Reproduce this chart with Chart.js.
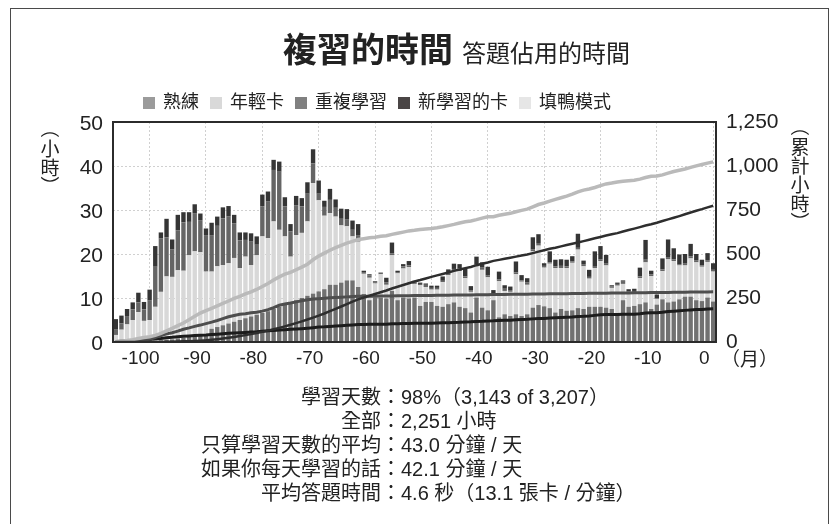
<!DOCTYPE html>
<html>
<head>
<meta charset="utf-8">
<script src="https://cdn.jsdelivr.net/npm/chart.js@4.4.1/dist/chart.umd.min.js"></script>
<style>
    html, body { margin: 0; padding: 0; background: #fff; }
    body {
        width: 839px; height: 524px; position: relative; overflow: hidden;
        font-family: "Liberation Sans", "Noto Sans CJK TC", sans-serif; color: #222;
    }
    #chart { position: absolute; left: 0; top: 0; }
    #box { position: absolute; left: 10px; top: 8px; width: 819px; height: 560px; border: 1px solid #4a4a4a; box-sizing: border-box; }
    #title { position: absolute; left: 283px; top: 29px; white-space: nowrap; line-height: 42px; }
    #title b { font-size: 34px; font-weight: bold; }
    #title span { font-size: 24px; margin-left: 9px; }
    #legend { position: absolute; left: 143px; top: 90px; white-space: nowrap; font-size: 18px; line-height: 24px; }
    #legend .item { display: inline-block; margin-right: 11px; }
    #legend .sw { display: inline-block; width: 12px; height: 12px; margin-right: 8px; vertical-align: -1px; }
    .vtitle { position: absolute; width: 20px; font-family: "Noto Sans CJK TC", sans-serif; font-size: 19px; line-height: 19px; text-align: center; }
    .vtitle span { display: block; height: 19px; }
    .vtitle span.rot { transform: rotate(90deg); }
    #unit { position: absolute; left: 721px; top: 344px; font-size: 19px; }
    #stats { position: absolute; left: 0; top: 385px; font-size: 20px; line-height: 24px; }
    #stats .k { display: inline-block; width: 401px; text-align: right; }
</style>
</head>
<body>
<div id="box"></div>
<canvas id="chart" width="839" height="524"></canvas>
<div id="title"><b>複習的時間</b><span>答題佔用的時間</span></div>
<div id="legend"></div>
<div class="vtitle" id="ytitle" style="left:40px; top:119px;"></div>
<div class="vtitle" id="y2title" style="left:790px; top:117px;"></div>
<div id="unit">（月）</div>
<div id="stats"></div>
<script>
document.addEventListener('DOMContentLoaded', () => {
    // 月份：-106 到 0
    const months = [];
    for (let m = -106; m <= 0; m++) months.push(m);

    // 每月小時數
    const mature = [
        0, 0, 0, 0, 0, 0, 0,
        0.3, 0.4, 0.5, 0.6, 0.8, 1.0, 1.2, 1.4, 1.6, 1.8,
        3.0, 3.4, 3.8, 4.2, 4.6, 5.0, 5.4, 5.8, 6.2, 6.6, 7.0, 7.5, 8.0, 8.5, 9.0, 9.5, 10.0, 10.5,
        11, 11.5, 12, 13, 13, 13.5, 14, 14, 12.5,
        10.9, 9.5, 10.1, 10.1, 9.9, 11.6, 9.5, 10.1, 9.9,
        10.1, 8.2, 9.1, 9.1, 8.2, 8.0, 8.6, 9.0, 8.0, 7.7, 6.7, 10.1, 7.8, 7.2, 9.5, 5.6, 6.3, 5.9,
        6.3, 5.9, 6.3, 7.8, 8.4, 8.1, 7.7, 6.7, 7.5, 7.1, 7.2, 7.7, 7.5, 8.0, 8.0, 8.0, 7.8,
        7.5, 6.3, 9.5, 8.0, 8.2, 8.6, 9.0, 7.5, 8.5, 9.7, 9.0, 9.2, 9.7, 10.3, 10.3, 9.5, 9.3, 10.1, 9.2
    ];
    const young = [
        1.6, 2.8, 4.0, 5.0, 6.8, 4.8, 5.0,
        7.7, 11.0, 14.4, 14.2, 15.5, 15.2, 18.5, 19.2, 18.8, 14.2,
        13.0, 13.8, 13.7, 13.7, 14.5, 11.8, 14.0, 11.7, 13.5, 17.4, 16.6, 19.9, 17.5, 15.5, 10.4, 14.8, 14.8, 16.9,
        25.1, 20.7, 16.7, 16.3, 15.5, 13.0, 12.3, 10.0, 10.3,
        4.6, 5.1, 3.2, 5.3, 3.1, 8.1, 6.1, 6.6, 7.1,
        3.1, 4.7, 3.4, 2.8, 3.7, 5.6, 6.6, 7.2, 8.1, 6.8, 4.7, 7.1, 8.6, 7.5, 1.0, 8.2, 5.3, 5.5,
        9.1, 7.8, 6.7, 12.8, 13.5, 8.8, 10.1, 10.1, 9.3, 9.7, 10.8, 13.3, 9.7, 6.4, 8.8, 10.4, 9.6,
        4.8, 6.5, 3.7, 3.1, 3.1, 5.9, 9.1, 7.5, 1.3, 6.4, 9.8, 9.2, 7.7, 7.1, 8.7, 8.6, 7.8, 8.1, 6.8
    ];
    const relearn = [
        1.2, 1.4, 1.9, 2.4, 2.2, 2.6, 4.4,
        9.1, 12.1, 8.9, 6.2, 9.1, 11.0, 7.6, 8.7, 7.3, 8.3,
        8.3, 9.2, 10.6, 10.6, 7.9, 6.3, 3.8, 5.3, 2.4, 6.8, 8.3, 11.7, 13.2, 6.8, 5.7, 6.8, 6.0, 6.3,
        4.5, 1.5, 2.0, 3.0, 2.0, 1.5, 1.5, 1.5, 1.5,
        0.4, 0.5, 0.3, 0.4, 0.6, 0.4, 0.3, 0.5, 0.4,
        0.4, 0.3, 0.5, 0.4, 0.4, 0.3, 0.5, 0.4, 0.6, 0.4, 0.3, 0.4, 0.5, 0.4, 0.3, 0.4, 0.5, 0.4,
        0.4, 0.3, 0.5, 0.4, 0.6, 0.4, 0.3, 0.4, 0.5, 0.4, 0.3, 0.4, 0.5, 0.4, 0.3, 0.4, 0.4,
        0.3, 0.4, 0.5, 0.4, 0.3, 0.4, 0.6, 0.4, 0.2, 0.4, 0.5, 0.4, 0.3, 0.4, 0.5, 0.4, 0.3, 0.4, 0.4
    ];
    const learn = [
        2.4, 1.8, 1.6, 1.6, 2.2, 1.7, 2.5,
        4.7, 1.4, 4.2, 2.3, 3.5, 2.3, 2.2, 2.0, 1.5, 1.5,
        2.8, 2.1, 2.5, 2.4, 1.9, 1.8, 1.7, 1.9, 1.9, 2.7, 2.3, 2.3, 2.3, 2.1, 1.7, 2.1, 1.9, 2.6,
        3.2, 3.0, 1.4, 2.5, 1.9, 2.3, 2.4, 2.1, 2.5,
        0.3, 0.3, 0.2, 0, 1.0, 2.5, 0.3, 0.5, 1.0,
        0.3, 0.3, 0.3, 0.5, 0.5, 1.0, 0.8, 1.2, 1.0, 1.8, 1.0, 1.8, 1.2, 2.0, 1.0, 1.8, 0.8, 0.8,
        2.5, 1.2, 1.0, 2.8, 2.0, 0.6, 2.5, 1.5, 1.5, 1.5, 1.2, 3.2, 0.8, 1.6, 3.5, 3.0, 2.0,
        0.3, 0.3, 0.3, 0.5, 0.5, 2.0, 4.5, 0.8, 0.8, 2.5, 4.0, 2.5, 2.2, 2.2, 2.8, 1.5, 1.3, 1.6, 1.5
    ];

    const seriesLabels = ['熟練', '年輕卡', '重複學習', '新學習的卡', '填鴨模式'];
    const legendColors = ['#9b9b9b', '#d9d9d9', '#808080', '#4a4545', '#e6e6e6'];
    const barColors = ['#717171', '#d8d8d8', '#656565', '#353535'];
    const lineColors = ['#2e2e2e', '#bababa', '#4e4e4e', '#1c1c1c'];
    const lineWidths = [2.5, 3.5, 3, 3];

    // 直排的軸標題
    const yTitle = '（小時）';
    const y2Title = '（累計小時）';

    const statsRows = [
        ['學習天數：', '98%（3,143 of 3,207）'],
        ['全部：', '2,251 小時'],
        ['只算學習天數的平均：', '43.0 分鐘 / 天'],
        ['如果你每天學習的話：', '42.1 分鐘 / 天'],
        ['平均答題時間：', '4.6 秒（13.1 張卡 / 分鐘）']
    ];

    const FONT = '"Liberation Sans", "Noto Sans CJK TC", sans-serif';

    // 累計小時
    const cumulative = (arr) => {
        let sum = 0;
        return arr.map(v => (sum += v));
    };

    // 每個字一行，括號轉 90 度
    const verticalText = (text) => Array.from(text).map(ch =>
        `<span class="${ch === '（' || ch === '）' ? 'rot' : ''}">${ch}</span>`
    ).join('');
    document.getElementById('ytitle').innerHTML = verticalText(yTitle);
    document.getElementById('y2title').innerHTML = verticalText(y2Title);

    // 圖例
    document.getElementById('legend').innerHTML = seriesLabels.map((label, i) =>
        `<span class="item"><span class="sw" style="background:${legendColors[i]}"></span>${label}</span>`
    ).join('');

    // 統計文字
    document.getElementById('stats').innerHTML = statsRows.map(r =>
        `<div><span class="k">${r[0]}</span>${r[1]}</div>`
    ).join('');

    const series = [mature, young, relearn, learn];
    const datasets = [];
    series.forEach((data, i) => {
        datasets.push({
            type: 'bar',
            label: seriesLabels[i],
            data: data,
            backgroundColor: barColors[i],
            borderWidth: 0,
            yAxisID: 'y',
            stack: 'reps',
            order: 2,
            categoryPercentage: 1,
            barPercentage: 0.78
        });
    });
    series.forEach((data, i) => {
        datasets.push({
            type: 'line',
            label: seriesLabels[i],
            data: cumulative(data),
            borderColor: lineColors[i],
            borderWidth: lineWidths[i],
            pointRadius: 0,
            tension: 0,
            yAxisID: 'y2',
            order: 1
        });
    });

    // 圖表外框
    const framePlugin = {
        id: 'frame',
        afterDatasetsDraw(chart) {
            const { ctx, chartArea: a } = chart;
            ctx.save();
            ctx.strokeStyle = '#2b2b2b';
            ctx.lineWidth = 2;
            ctx.strokeRect(a.left, a.top, a.right - a.left, a.bottom - a.top);
            ctx.restore();
        }
    };

    new Chart(document.getElementById('chart'), {
        data: { labels: months, datasets: datasets },
        plugins: [framePlugin],
        options: {
            responsive: false,
            animation: false,
            devicePixelRatio: 1,
            layout: { padding: { left: 12, right: 23, top: 122, bottom: 152 } },
            plugins: { legend: { display: false }, tooltip: { enabled: false } },
            font: { family: FONT },
            scales: {
                x: {
                    type: 'category',
                    offset: true,
                    stacked: true,
                    grid: {
                        offset: false,
                        drawTicks: false,
                        color: (c) => (months[c.index] % 10 === 0 ? '#d0d0d0' : 'rgba(0,0,0,0)')
                    },
                    border: { display: false, dash: [2, 2] },
                    ticks: {
                        autoSkip: false,
                        maxRotation: 0,
                        padding: 5,
                        labelOffset: -9,
                        color: '#222',
                        font: { size: 19, family: FONT },
                        callback: (v, i) => (months[i] % 10 === 0 ? String(months[i]) : '')
                    },
                    afterFit: (s) => { s.height = 30; }
                },
                y: {
                    position: 'left',
                    stacked: true,
                    min: 0,
                    max: 50,
                    grid: { color: '#d0d0d0', drawTicks: false },
                    border: { display: false, dash: [2, 2] },
                    ticks: { stepSize: 10, padding: 10, labelOffset: 2, color: '#222', font: { size: 21, family: FONT } },
                    afterFit: (s) => { s.width = 101; }
                },
                y2: {
                    position: 'right',
                    min: 0,
                    max: 1250,
                    grid: { drawOnChartArea: false, drawTicks: false },
                    border: { display: false },
                    ticks: {
                        stepSize: 250,
                        padding: 10,
                        color: '#222',
                        font: { size: 21, family: FONT },
                        callback: (v) => Number(v).toLocaleString('en-US')
                    },
                    afterFit: (s) => { s.width = 100; }
                }
            }
        }
    });
});
</script>
</body>
</html>
